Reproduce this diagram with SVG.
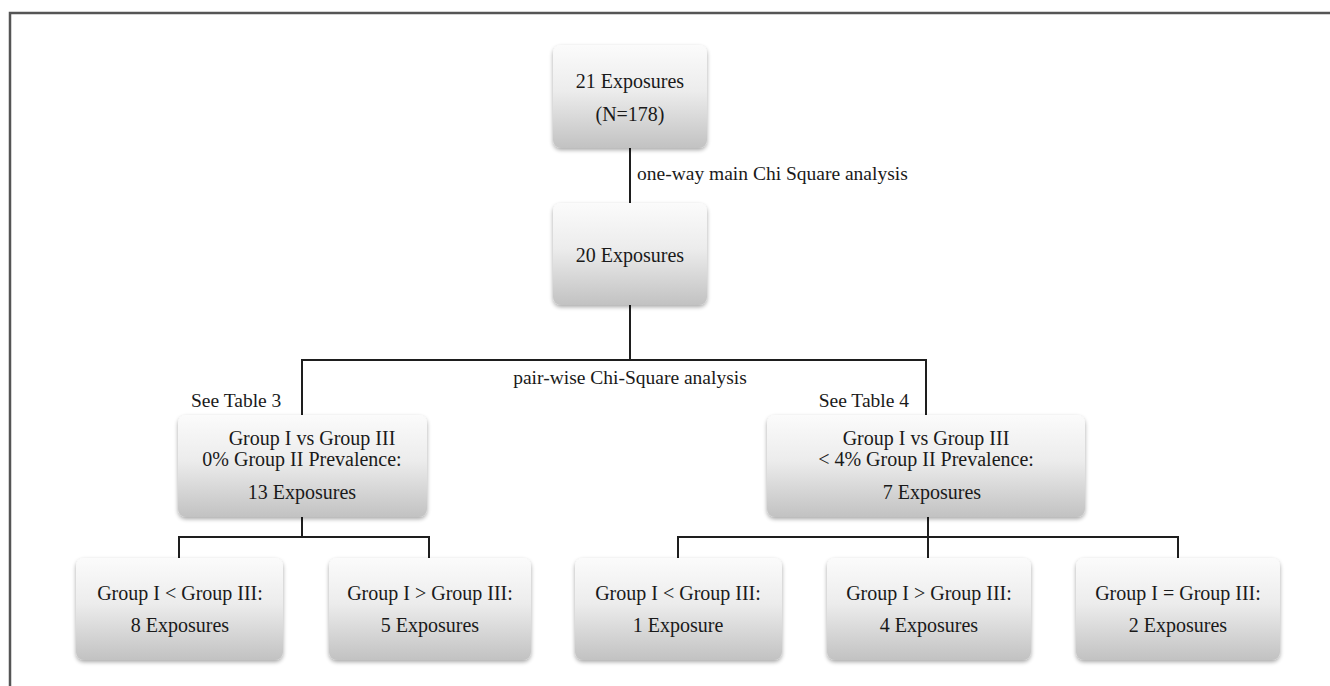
<svg xmlns="http://www.w3.org/2000/svg" width="1330" height="686" viewBox="0 0 1330 686">
<defs>
<linearGradient id="g" x1="0" y1="0" x2="0" y2="1">
<stop offset="0" stop-color="#fbfbfb"/>
<stop offset="0.45" stop-color="#ececec"/>
<stop offset="1" stop-color="#c2c2c2"/>
</linearGradient>
<filter id="sh" x="-10%" y="-10%" width="120%" height="130%">
<feGaussianBlur in="SourceAlpha" stdDeviation="2"/>
<feOffset dy="2" result="b"/>
<feComponentTransfer><feFuncA type="linear" slope="0.35"/></feComponentTransfer>
<feMerge><feMergeNode/><feMergeNode in="SourceGraphic"/></feMerge>
</filter>
<style>
.box{fill:url(#g);filter:url(#sh);}
.t{font-family:"Liberation Serif","Times New Roman",serif;font-size:20px;fill:#1a1a1a;text-anchor:middle;}
.l{font-family:"Liberation Serif","Times New Roman",serif;font-size:19.5px;fill:#1a1a1a;}
.c{stroke:#1e1e1e;stroke-width:2;fill:none;}
.f{stroke:#555;stroke-width:2.5;fill:none;}
</style>
</defs>
<rect width="1330" height="686" fill="#fff"/>
<path class="f" d="M10,686 V13 H1330"/>
<g id="connectors">
<path class="c" d="M630,148 V203"/>
<path class="c" d="M630,305 V360 M302,415 V360 H926 V415"/>
<path class="c" d="M302,517 V537 M179,558 V537 H429 V558"/>
<path class="c" d="M928,517 V537 M678,558 V537 H1178 V558 M928,537 V558"/>
<text class="l" x="637" y="180">one-way main Chi Square analysis</text>
<text class="l" x="630" y="384" text-anchor="middle">pair-wise Chi-Square analysis</text>
<text class="l" x="191" y="407">See Table 3</text>
<text class="l" x="909" y="407" text-anchor="end">See Table 4</text>
</g>
<g id="n1"><rect class="box" x="553" y="45" width="154" height="103" rx="8"/>
<text class="t" x="630" y="88">21 Exposures</text><text class="t" x="630" y="121">(N=178)</text></g>
<g id="n2"><rect class="box" x="553" y="203" width="154" height="102" rx="8"/>
<text class="t" x="630" y="262">20 Exposures</text></g>
<g id="n3"><rect class="box" x="178" y="415" width="249" height="102" rx="8"/>
<text class="t" x="312" y="445">Group I vs Group III</text><text class="t" x="302" y="466">0% Group II Prevalence:</text><text class="t" x="302" y="499">13 Exposures</text></g>
<g id="n4"><rect class="box" x="767" y="415" width="318" height="102" rx="8"/>
<text class="t" x="926" y="445">Group I vs Group III</text><text class="t" x="926" y="466">&lt; 4% Group II Prevalence:</text><text class="t" x="932" y="499">7 Exposures</text></g>
<g id="n5"><rect class="box" x="76" y="558" width="207" height="102" rx="8"/>
<text class="t" x="180" y="600">Group I &lt; Group III:</text><text class="t" x="180" y="632">8 Exposures</text></g>
<g id="n6"><rect class="box" x="329" y="558" width="202" height="102" rx="8"/>
<text class="t" x="430" y="600">Group I &gt; Group III:</text><text class="t" x="430" y="632">5 Exposures</text></g>
<g id="n7"><rect class="box" x="575" y="558" width="207" height="102" rx="8"/>
<text class="t" x="678" y="600">Group I &lt; Group III:</text><text class="t" x="678" y="632">1 Exposure</text></g>
<g id="n8"><rect class="box" x="827" y="558" width="204" height="102" rx="8"/>
<text class="t" x="929" y="600">Group I &gt; Group III:</text><text class="t" x="929" y="632">4 Exposures</text></g>
<g id="n9"><rect class="box" x="1076" y="558" width="204" height="102" rx="8"/>
<text class="t" x="1178" y="600">Group I = Group III:</text><text class="t" x="1178" y="632">2 Exposures</text></g>
</svg>
